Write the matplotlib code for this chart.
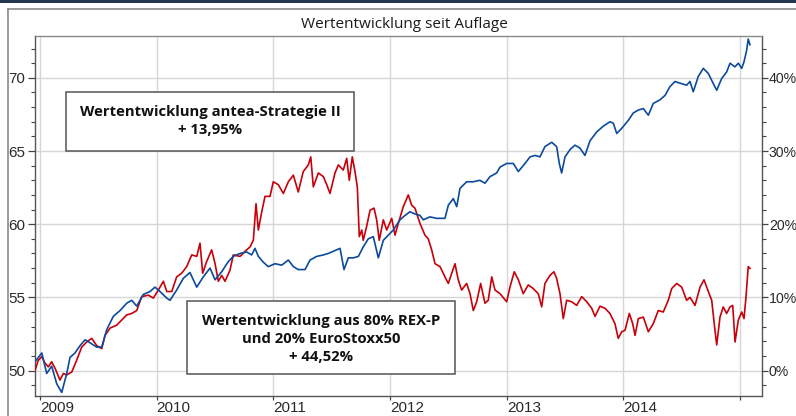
import matplotlib
matplotlib.use("Agg")
import matplotlib.pyplot as plt
from matplotlib.ticker import MultipleLocator, FuncFormatter
from matplotlib.patches import Rectangle

# ---- data (decimal years, index value) ----
blue_t = [2008.957, 2009.015, 2009.057, 2009.100, 2009.143, 2009.186, 2009.229, 2009.257, 2009.300, 2009.343,
          2009.386, 2009.428, 2009.486, 2009.529, 2009.572, 2009.628, 2009.686, 2009.743, 2009.786, 2009.829,
          2009.885, 2009.943, 2009.985, 2010.028, 2010.086, 2010.114, 2010.171, 2010.228, 2010.285, 2010.343,
          2010.399, 2010.457, 2010.500, 2010.557, 2010.614, 2010.656, 2010.714, 2010.771, 2010.814, 2010.842,
          2010.871, 2010.914, 2010.956, 2011.014, 2011.071, 2011.128, 2011.171, 2011.213, 2011.271, 2011.314,
          2011.371, 2011.428, 2011.470, 2011.528, 2011.571, 2011.605, 2011.642, 2011.685, 2011.728, 2011.770,
          2011.813, 2011.856, 2011.899, 2011.942, 2011.985, 2012.027, 2012.085, 2012.128, 2012.170, 2012.213,
          2012.256, 2012.284, 2012.342, 2012.399, 2012.470, 2012.499, 2012.542, 2012.571, 2012.599, 2012.656,
          2012.713, 2012.770, 2012.813, 2012.856, 2012.913, 2012.942, 2012.999, 2013.056, 2013.099, 2013.156,
          2013.199, 2013.242, 2013.284, 2013.327, 2013.385, 2013.427, 2013.450, 2013.470, 2013.499, 2013.542,
          2013.584, 2013.627, 2013.670, 2013.713, 2013.770, 2013.827, 2013.884, 2013.913, 2013.942, 2013.985,
          2014.042, 2014.084, 2014.127, 2014.170, 2014.213, 2014.255, 2014.313, 2014.356, 2014.398, 2014.441,
          2014.499, 2014.541, 2014.570, 2014.598, 2014.641, 2014.684, 2014.727, 2014.770, 2014.799, 2014.841,
          2014.884, 2014.913, 2014.955, 2014.984, 2015.013, 2015.033, 2015.056, 2015.069, 2015.084]
blue_v = [50.6, 51.2, 49.8, 50.3, 49.1, 48.5, 49.8, 50.9, 51.2, 51.7,
          52.1, 51.9, 51.6, 51.6, 52.8, 53.7, 54.1, 54.6, 54.8, 54.4,
          55.2, 55.4, 55.7, 55.4, 54.95, 54.8, 55.5, 56.3, 56.7, 55.7,
          56.4, 57.0, 56.2, 56.75, 57.45, 57.8, 58.0, 58.1, 57.9, 58.35,
          57.8, 57.4, 57.1, 57.3, 57.2, 57.55, 57.1, 56.9, 56.9, 57.55,
          57.8, 57.9, 58.0, 58.2, 58.35, 56.9, 57.7, 57.7, 57.8, 58.45,
          59.0, 59.15, 57.7, 58.9, 59.25, 59.6, 60.3, 60.6, 60.85, 60.7,
          60.6, 60.3, 60.5, 60.4, 60.4, 61.3, 61.75, 61.2, 62.45, 62.9,
          62.9, 63.0, 62.8, 63.25, 63.5, 63.9, 64.15, 64.15, 63.6, 64.15,
          64.6, 64.7, 64.6, 65.3, 65.6, 65.3, 64.15, 63.5, 64.6, 65.1,
          65.4, 65.2, 64.7, 65.7, 66.3, 66.7, 67.0, 66.9, 66.2, 66.55,
          67.1, 67.6, 67.8, 67.9, 67.45, 68.25, 68.5, 68.8, 69.4, 69.75,
          69.6, 69.5, 69.75, 69.05, 70.1, 70.65, 70.3, 69.6, 69.15, 69.95,
          70.4, 71.0, 70.75, 71.0, 70.65, 71.1, 71.9, 72.65, 72.26]

red_t = [2008.957, 2008.985, 2009.015, 2009.043, 2009.071, 2009.100, 2009.129, 2009.171, 2009.200, 2009.229,
         2009.272, 2009.314, 2009.357, 2009.400, 2009.443, 2009.486, 2009.529, 2009.557, 2009.600, 2009.657,
         2009.700, 2009.743, 2009.786, 2009.829, 2009.871, 2009.928, 2009.971, 2010.014, 2010.057, 2010.086,
         2010.129, 2010.171, 2010.214, 2010.257, 2010.300, 2010.343, 2010.371, 2010.394, 2010.428, 2010.471,
         2010.500, 2010.528, 2010.557, 2010.585, 2010.628, 2010.656, 2010.714, 2010.771, 2010.800, 2010.828,
         2010.851, 2010.871, 2010.900, 2010.928, 2010.971, 2010.999, 2011.042, 2011.085, 2011.128, 2011.171,
         2011.213, 2011.256, 2011.299, 2011.320, 2011.342, 2011.385, 2011.428, 2011.457, 2011.485, 2011.528,
         2011.556, 2011.599, 2011.628, 2011.650, 2011.676, 2011.699, 2011.719, 2011.736, 2011.757, 2011.770,
         2011.799, 2011.828, 2011.862, 2011.885, 2011.907, 2011.942, 2011.971, 2012.014, 2012.042, 2012.070,
         2012.113, 2012.156, 2012.185, 2012.213, 2012.256, 2012.299, 2012.327, 2012.356, 2012.385, 2012.428,
         2012.470, 2012.499, 2012.528, 2012.556, 2012.584, 2012.613, 2012.656, 2012.685, 2012.713, 2012.742,
         2012.776, 2012.813, 2012.841, 2012.871, 2012.899, 2012.942, 2012.999, 2013.027, 2013.064, 2013.099,
         2013.141, 2013.184, 2013.227, 2013.270, 2013.299, 2013.327, 2013.370, 2013.404, 2013.427, 2013.456,
         2013.484, 2013.513, 2013.556, 2013.599, 2013.642, 2013.685, 2013.728, 2013.756, 2013.799, 2013.842,
         2013.884, 2013.927, 2013.955, 2013.985, 2014.013, 2014.050, 2014.079, 2014.099, 2014.127, 2014.170,
         2014.213, 2014.255, 2014.298, 2014.341, 2014.384, 2014.413, 2014.456, 2014.499, 2014.541, 2014.570,
         2014.613, 2014.656, 2014.690, 2014.727, 2014.756, 2014.784, 2014.799, 2014.827, 2014.855, 2014.884,
         2014.913, 2014.936, 2014.956, 2014.984, 2015.013, 2015.033, 2015.050, 2015.069, 2015.084]
red_v = [50.0, 50.7, 50.95, 50.5, 50.25, 50.6, 50.15, 49.35, 49.8, 49.7,
         49.9, 50.7, 51.6, 51.95, 52.2, 51.7, 51.5, 52.4, 52.9, 53.1,
         53.45, 53.8, 53.9, 54.1, 55.05, 55.15, 54.95, 55.5, 56.1, 55.4,
         55.4, 56.4, 56.65, 57.1, 57.9, 57.8, 58.7, 56.65, 57.45, 58.25,
         57.3, 56.1, 56.5, 56.1, 56.85, 57.9, 57.8, 58.25, 58.45, 58.9,
         61.4, 59.6, 60.85, 61.9, 61.9, 62.9, 62.7, 62.1, 62.9, 63.35,
         62.2, 63.6, 64.05, 64.6, 62.55, 63.5, 63.25, 62.7, 62.1, 63.5,
         64.05, 63.7, 64.5, 63.0, 64.6, 63.6, 62.55, 59.15, 59.6, 58.9,
         59.85, 60.95, 61.1, 60.3, 58.9, 60.3, 59.6, 60.4, 59.25, 60.05,
         61.2, 62.0, 61.3, 61.1, 60.05, 59.25, 59.0, 58.25, 57.3, 57.1,
         56.4, 55.95, 56.65, 57.3, 56.2, 55.5, 55.95, 55.25, 54.1, 54.7,
         55.95, 54.6, 54.8, 56.4, 55.5, 55.25, 54.7, 55.7, 56.75, 56.2,
         55.25, 55.85, 55.6, 55.25, 54.35, 55.95, 56.5, 56.75, 56.3, 55.25,
         53.55, 54.8, 54.7, 54.45, 55.05, 54.7, 54.25, 53.7, 54.4, 54.25,
         53.9, 53.2, 52.2, 52.65, 52.75, 53.9, 53.2, 52.4, 53.55, 53.65,
         52.65, 53.2, 54.1, 54.0, 54.8, 55.6, 55.95, 55.7, 54.8, 55.0,
         54.45, 55.7, 56.2, 55.4, 54.8, 52.75, 51.75, 53.65, 54.35, 53.9,
         54.35, 54.45, 51.95, 53.45, 54.0, 53.55, 55.05, 57.1, 56.98]

years = [2009, 2010, 2011, 2012, 2013, 2014, 2015]
year_labels = ["2009", "2010", "2011", "2012", "2013", "2014", ""]
left_ticks = [50, 55, 60, 65, 70]
right_ticks = [0, 10, 20, 30, 40]

title = "Wertentwicklung seit Auflage"
box1_text = "Wertentwicklung antea-Strategie II\n+ 13,95%"
box2_text = "Wertentwicklung aus 80% REX-P\nund 20% EuroStoxx50\n+ 44,52%"

# ---- figure ----
W, H = 796, 416
fig = plt.figure(figsize=(W / 100, H / 100), dpi=100)
fig.patch.set_facecolor("white")

# top dark band and outer frame
fig.add_artist(Rectangle((0, 1 - 3 / H), 1, 3 / H, transform=fig.transFigure,
                         color="#22384f", lw=0, zorder=0))
fig.add_artist(plt.Line2D([8 / W, 8 / W], [0, 1 - 9 / H], transform=fig.transFigure,
                          color="#8a8a8a", lw=1.2))
fig.add_artist(plt.Line2D([8 / W, 1], [1 - 9 / H, 1 - 9 / H], transform=fig.transFigure,
                          color="#8a8a8a", lw=1.2))

ax = fig.add_axes([35 / W, 20 / H, 727 / W, 360 / H])
ylo, yhi = 48.26, 72.86
ax.set_xlim(2008.957, 2015.187)
ax.set_ylim(ylo, yhi)

ax.plot(red_t, red_v, color="#c8000a", lw=1.2, zorder=3)
ax.plot(blue_t, blue_v, color="#0b4a9c", lw=1.2, zorder=4)

ax.set_xticks(years)
ax.set_xticklabels(year_labels)
for lbl in ax.get_xticklabels():
    lbl.set_horizontalalignment("left")
ax.set_yticks(left_ticks)
ax.yaxis.set_minor_locator(MultipleLocator(1))
ax.grid(True, which="major", color="#d6d6d6", lw=1.0)
ax.set_axisbelow(True)

ax.tick_params(axis="both", which="major", direction="out", length=5, width=0.9,
               color="#444444", labelcolor="#2a2a2a", labelsize=11, pad=2)
ax.tick_params(axis="y", which="minor", direction="out", length=3, width=0.8, color="#444444")
ax.tick_params(axis="x", which="major", length=3, pad=0.5)
for lbl in ax.get_xticklabels() + ax.get_yticklabels():
    lbl.set_fontfamily("Liberation Sans")

for s in ax.spines.values():
    s.set_color("#555555")
    s.set_linewidth(1.0)
ax.spines["top"].set_color("#8a8a8a")

ax2 = ax.twinx()
ax2.set_ylim((ylo - 50) * 2, (yhi - 50) * 2)
ax2.set_yticks(right_ticks)
ax2.yaxis.set_minor_locator(MultipleLocator(2))
ax2.yaxis.set_major_formatter(FuncFormatter(lambda v, p: f"{v:.0f}%"))
ax2.tick_params(axis="y", which="major", direction="out", length=4, width=0.9,
                color="#444444", labelcolor="#2a2a2a", labelsize=10.2, pad=1)
ax2.tick_params(axis="y", which="minor", direction="out", length=3, width=0.8, color="#444444")
for lbl in ax2.get_yticklabels():
    lbl.set_fontfamily("Liberation Sans")
for s in ax2.spines.values():
    s.set_visible(False)

# title
fig.text(404 / W, 1 - 24 / H, title, ha="center", va="center",
         fontsize=11, family="Open Sans", color="#1a1a1a")

# text boxes (positioned in axes fraction)
def box(x0, y0, x1, y1, text, cy_lines):
    ax0, ay0 = 35, 36
    fx0 = (x0 - ax0) / 727
    fx1 = (x1 - ax0) / 727
    fy0 = 1 - (y1 - ay0) / 360
    fy1 = 1 - (y0 - ay0) / 360
    ax.add_patch(Rectangle((fx0, fy0), fx1 - fx0, fy1 - fy0, transform=ax.transAxes,
                           facecolor="white", edgecolor="#555555", lw=1.1, zorder=6))
    ax.text((fx0 + fx1) / 2, 1 - (cy_lines - ay0) / 360, text, transform=ax.transAxes,
            ha="center", va="center", fontsize=10.7, fontweight="bold", family="Open Sans",
            color="#111111", linespacing=1.35, zorder=7)

box(66, 92, 354, 151, box1_text, 121)
box(187, 301, 455, 374, box2_text, 339)

fig.savefig("out.png", dpi=100)
